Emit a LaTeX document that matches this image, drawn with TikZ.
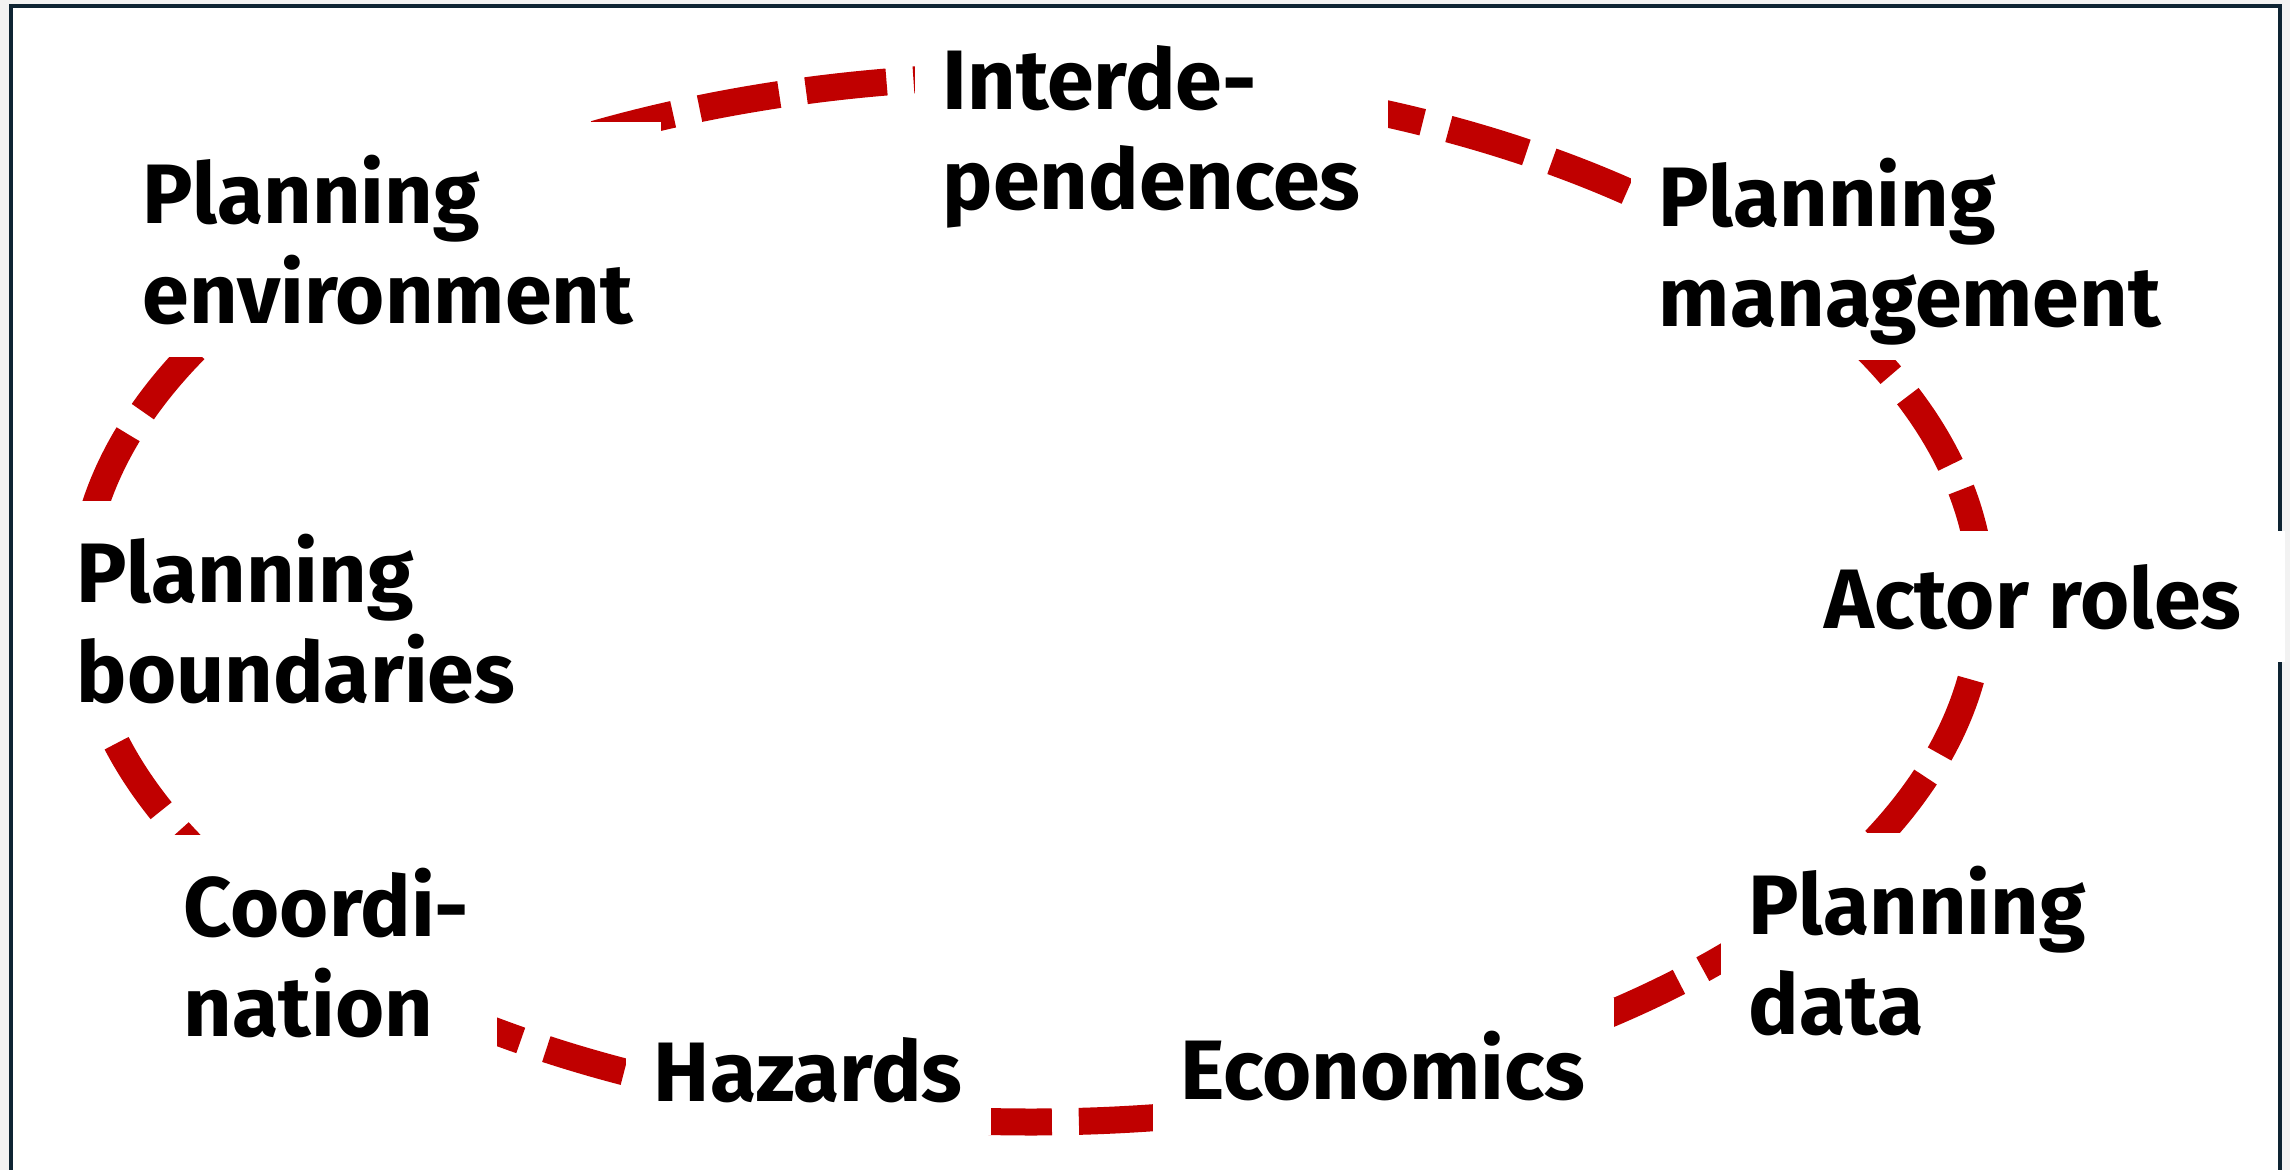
\documentclass[tikz,border=0pt]{standalone}
\usepackage{fontspec}
\setmainfont{Fira Sans}

\begin{document}
\begin{tikzpicture}

  % Define the colours of the slide
  \definecolor{ringred}{RGB}{192,0,0}
  \definecolor{framenavy}{RGB}{14,36,51}
  \definecolor{pagegray}{RGB}{242,242,242}

  % Define ring properties
  \def\ringxradius{9.51}
  \def\ringyradius{5.23}
  \def\ringthickness{0.27cm} % Adjustable line thickness

  \tikzset{
    ring/.style={draw=ringred, line width=\ringthickness,
      dash pattern=on 0.81cm off 0.27cm, dash phase=0.77cm},
    topic/.style={fill=white, anchor=north west, align=left,
      inner ysep=9.5pt, text depth=0pt, text=black,
      font=\fontsize{24}{28.5}\selectfont\bfseries}
  }

  % Page and frame
  \useasboundingbox (0,0) rectangle (22.90,-11.70);
  \fill[pagegray] (0,0) rectangle (22.90,-11.70);
  \draw[framenavy, line width=1.15pt, fill=white]
    (0.11,-12.50) -- (0.11,-0.06) -- (22.80,-0.06) -- (22.80,-12.50);

  % Dashed ring round the centre
  \coordinate (hub) at (10.31,-5.99);
  \draw[ring] (hub) ellipse [x radius=\ringxradius, y radius=\ringyradius];

  % Topics placed over the ring
  \foreach \name/\x/\y/\sep/\txt in {
      inter/9.14/-0.11/8pt/{Interde-\\pendences},
      environ/1.14/-1.21/8pt/{Planning\\environment},
      manage/16.30/-1.24/8pt/{Planning\\management},
      actors/17.80/-5.30/12.5pt/{Actor roles},
      bounds/0.48/-5.00/8pt/{Planning\\boundaries},
      coord/1.55/-8.34/8pt/{Coordi-\\nation},
      hazards/6.25/-10.03/8pt/{Hazards},
      econ/11.52/-9.97/8pt/{Economics},
      data/17.20/-8.32/8pt/{Planning\\data}} {
    \node[topic, inner xsep=\sep] (\name) at (\x,\y) {\txt};
  }

\end{tikzpicture}
\end{document}
